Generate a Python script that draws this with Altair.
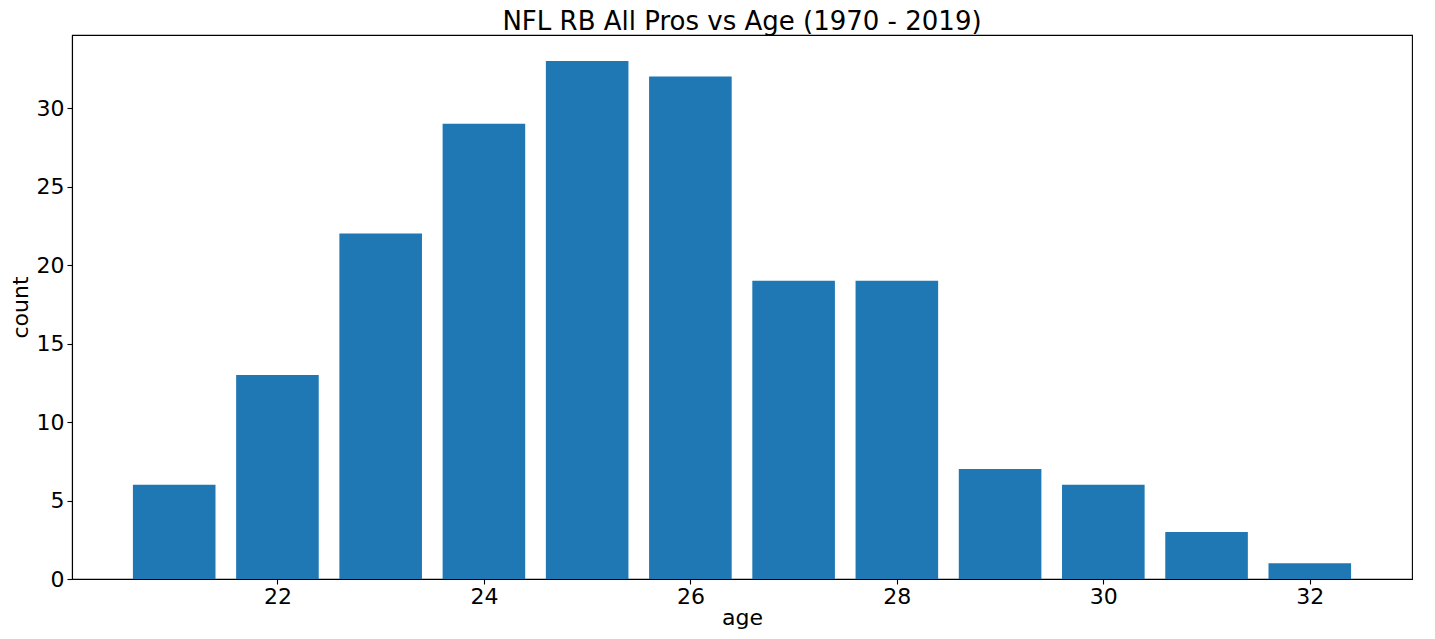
import altair as alt
import pandas as pd

ages = [21, 22, 23, 24, 25, 26, 27, 28, 29, 30, 31, 32]
counts = [6, 13, 22, 29, 33, 32, 19, 19, 7, 6, 3, 1]

df = pd.DataFrame({"age": ages, "count": counts})

font = "DejaVu Sans"

chart = (
    alt.Chart(df)
    .transform_calculate(x0="datum.age - 0.4", x1="datum.age + 0.4")
    .mark_bar(color="#1f77b4")
    .encode(
        x=alt.X(
            "x0:Q",
            scale=alt.Scale(domain=[20.01, 32.99], nice=False, zero=False),
            axis=alt.Axis(values=[22, 24, 26, 28, 30, 32], title="age", grid=False,
                          labelFontSize=22, titleFontSize=22, tickSize=5,
                          labelPadding=2, titlePadding=0, format="d"),
        ),
        x2="x1:Q",
        y=alt.Y(
            "count:Q",
            scale=alt.Scale(domain=[0, 34.65], nice=False),
            axis=alt.Axis(values=[0, 5, 10, 15, 20, 25, 30], title="count", grid=False,
                          labelFontSize=22, titleFontSize=22, tickSize=5,
                          labelPadding=3, titlePadding=4),
        ),
        y2=alt.datum(0),
    )
    .properties(
        width=1340,
        height=544,
        title=alt.TitleParams("NFL RB All Pros vs Age (1970 - 2019)", fontSize=26,
                              font=font, fontWeight="normal", color="#000", offset=0),
        autosize=alt.AutoSizeParams(type="none"),
        padding={"left": 64, "top": 27, "right": 15, "bottom": 52},
    )
    .configure_view(stroke="#000", strokeWidth=1.1)
    .configure_axis(
        labelFont=font, titleFont=font, labelColor="#000", titleColor="#000",
        domainColor="#000", tickColor="#000", domainWidth=1.1, tickWidth=1.1,
        titleFontWeight="normal",
    )
)

chart.save("out.html", embed_options={"renderer": "svg", "actions": False})
